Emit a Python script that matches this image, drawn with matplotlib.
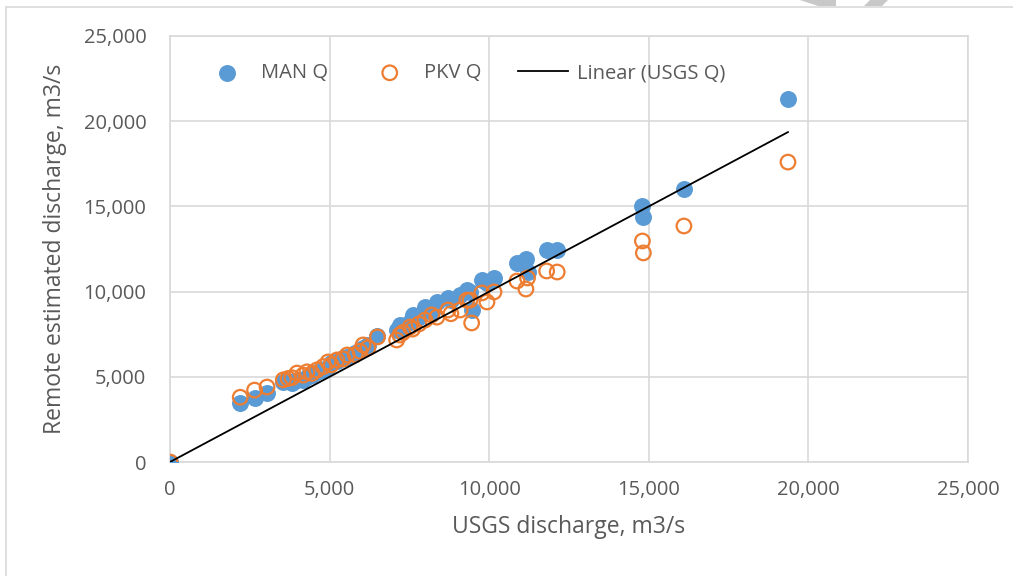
import numpy as np
import matplotlib
matplotlib.use('Agg')
import matplotlib.pyplot as plt
from matplotlib.patches import Rectangle, Polygon
from matplotlib.ticker import FuncFormatter

# USGS gauged discharge (x) and the two remote estimates (y), m3/s
usgs_q = [0, 2200, 2650, 3040, 3550, 3700, 3820, 3980, 4170, 4290,
          4450, 4600, 4800, 4950, 5050, 5230, 5420, 5550, 5800, 5950,
          6050, 6200, 6500, 7100, 7200, 7300, 7520, 7600, 7800, 7990,
          8200, 8360, 8710, 8800, 9090, 9300, 9400, 9450, 9770, 9930,
          10150, 10870, 11150, 11200, 11800, 12130, 14800, 14830, 16100, 19360]
man_q = [0, 3470, 3760, 4050, 4700, 4750, 4640, 4800, 4820, 5000,
         5100, 5290, 5400, 5600, 5800, 5900, 6100, 6150, 6400, 6570,
         6700, 6880, 7400, 7750, 8040, 7900, 8200, 8630, 8500, 9100,
         8800, 9390, 9620, 9500, 9800, 10090, 10000, 8920, 10680, 10500,
         10800, 11680, 11900, 11150, 12440, 12440, 15020, 14380, 16020, 21300]
pkv_q = [0, 3800, 4220, 4400, 4820, 4900, 4950, 5220, 5100, 5290,
         5200, 5400, 5600, 5870, 5700, 5990, 6050, 6280, 6300, 6500,
         6870, 6700, 7340, 7160, 7450, 7600, 7920, 7800, 8100, 8330,
         8630, 8500, 8920, 8700, 8920, 9500, 9500, 8160, 9920, 9390,
         9980, 10620, 10150, 10800, 11210, 11150, 12970, 12270, 13850, 17600]

ticks = [0, 5000, 10000, 15000, 20000, 25000]

blue = '#5B9BD5'
orange = '#ED7D31'
grid = '#D9D9D9'
text_col = '#595959'

plt.rcParams['font.family'] = ['Open Sans', 'DejaVu Sans']

W, H = 1013, 576
fig = plt.figure(figsize=(W / 100, H / 100), dpi=100)
ax = fig.add_axes([170 / W, 1 - 462 / H, 798 / W, 426 / H])

# chart border (cropped on the right / bottom like the original)
fig.patches.append(Rectangle((6 / W, -0.05), 1.2, 0.05 + (H - 7) / H,
                             transform=fig.transFigure, fill=False,
                             edgecolor=grid, linewidth=1.2))
# grey chevron peeking in at the top edge
for pts in ([(800, 0), (836, 0), (836, 6), (818, 6)],
            [(870, 0), (888, 0), (882, 6), (864, 6)]):
    fig.patches.append(Polygon([(x / W, 1 - y / H) for x, y in pts],
                               transform=fig.transFigure, color='#C8C8C8', lw=0))

ax.scatter(usgs_q, man_q, s=125, color=blue, label='MAN Q', zorder=3)
ax.scatter(usgs_q, pkv_q, s=110, facecolors='none', edgecolors=orange,
           linewidths=1.6, label='PKV Q', zorder=4)

# linear trendline of USGS Q
fit = np.polyfit(usgs_q, usgs_q, 1)
xs = np.array([min(usgs_q), max(usgs_q)])
ax.plot(xs, np.polyval(fit, xs), color='black', linewidth=1.3,
        label='Linear (USGS Q)', zorder=5)

ax.set_xlim(0, 25000)
ax.set_ylim(0, 25000)
ax.set_xticks(ticks)
ax.set_yticks(ticks)
fmt = FuncFormatter(lambda v, p: f'{int(v):,}')
ax.xaxis.set_major_formatter(fmt)
ax.yaxis.set_major_formatter(fmt)
ax.tick_params(length=0, labelsize=14.5, colors=text_col, pad=13)
ax.tick_params(axis='y', pad=17)
ax.grid(True, color=grid, linewidth=1.2)
ax.set_axisbelow(True)
for s in ax.spines.values():
    s.set_color(grid)
    s.set_linewidth(1.2)

ax.set_xlabel('USGS discharge, m3/s', fontsize=16.5, color=text_col, labelpad=11)
ax.set_ylabel('Remote estimated discharge, m3/s', fontsize=16.5, color=text_col, labelpad=12)

leg = ax.legend(loc='center left', bbox_to_anchor=(0.040, 0.913), ncol=3, frameon=False,
                fontsize=14.5, columnspacing=1.8, handlelength=2.5, handletextpad=0.45,
                borderpad=0, borderaxespad=0)
for t in leg.get_texts():
    t.set_color(text_col)

plt.savefig('out.png', dpi=100)
